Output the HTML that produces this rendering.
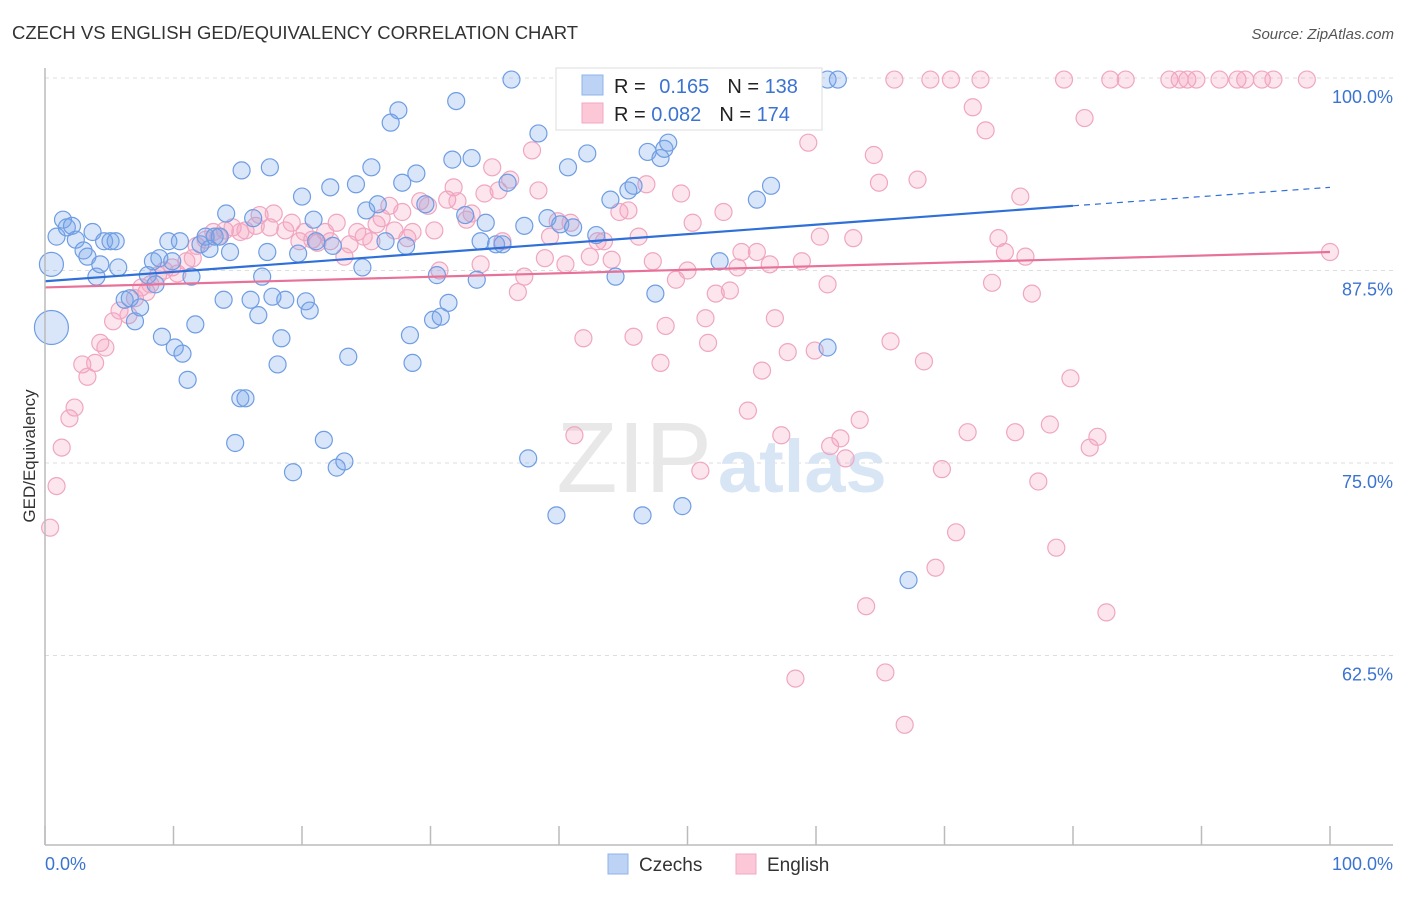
<!DOCTYPE html>
<html><head><meta charset="utf-8"><style>
body{margin:0;background:#fff;font-family:"Liberation Sans",sans-serif;}
svg text{font-family:"Liberation Sans",sans-serif;}
</style></head><body>
<svg id="chart" width="1406" height="892" xmlns="http://www.w3.org/2000/svg">
<text x="12" y="39" font-size="18.5" fill="#333">CZECH VS ENGLISH GED/EQUIVALENCY CORRELATION CHART</text>
<text x="1394" y="39" font-size="15" font-style="italic" fill="#555" text-anchor="end">Source: ZipAtlas.com</text>
<g id="grid"></g>
<text x="712" y="492" font-size="100" font-family="Liberation Serif" fill="#e8e8e8" text-anchor="end">ZIP</text>
<text x="718" y="492" font-size="74" font-weight="bold" fill="#d8e5f4">atlas</text>
<g id="pts"></g>
<g id="axes"></g>
<text transform="translate(35,456) rotate(-90)" font-size="17" fill="#333" text-anchor="middle">GED/Equivalency</text>
<text x="45" y="870" font-size="18" fill="#3b73d1">0.0%</text>
<text x="1393" y="870" font-size="18" fill="#3b73d1" text-anchor="end">100.0%</text>
<g>
<rect x="556" y="68" width="266" height="62" fill="#fff" stroke="#ddd"/>
<rect x="582" y="75" width="21" height="20" fill="#bcd3f5" stroke="#8fb3e8"/>
<rect x="582" y="103" width="21" height="20" fill="#fcc8d8" stroke="#f1a9c0"/>
<text x="614" y="93" font-size="20" fill="#222">R = <tspan fill="#3b73d1" dx="8">0.165</tspan><tspan dx="18" fill="#222">N = </tspan><tspan fill="#3b73d1">138</tspan></text>
<text x="614" y="121" font-size="20" fill="#222">R = <tspan fill="#3b73d1">0.082</tspan><tspan dx="18" fill="#222">N = </tspan><tspan fill="#3b73d1">174</tspan></text>
</g>
<g>
<rect x="608" y="854" width="20" height="20" fill="#bcd3f5" stroke="#8fb3e8"/>
<text x="639" y="871" font-size="19" fill="#333">Czechs</text>
<rect x="736" y="854" width="20" height="20" fill="#fcc8d8" stroke="#f1a9c0"/>
<text x="767" y="871" font-size="19" fill="#333">English</text>
</g>
</svg>
<script>
const yTicks=[100,87.5,75,62.5];
const yTickLabels=["100.0%","87.5%","75.0%","62.5%"];
const xTicks=[0,10,20,30,40,50,60,70,80,90,100];
const czechX=[0.5,0.5,0.9,1.4,1.7,2.1,2.4,3.0,3.3,3.7,4.0,4.3,4.6,5.1,5.5,5.7,6.2,6.6,7.0,7.4,8.0,8.4,8.6,8.9,9.1,9.6,9.9,10.1,10.5,10.7,11.1,11.4,11.7,12.1,12.5,12.8,13.2,13.6,13.9,14.1,14.4,14.8,15.2,15.3,15.6,16.0,16.2,16.6,16.9,17.3,17.5,17.7,18.1,18.4,18.7,19.3,19.7,20.0,20.3,20.6,20.9,21.1,21.7,22.2,22.4,22.7,23.3,23.6,24.2,24.7,25.0,25.4,25.9,26.5,26.9,27.5,27.8,28.1,28.4,28.6,28.9,29.6,30.2,30.5,30.8,31.4,31.7,32.0,32.7,33.2,33.6,33.9,34.3,35.1,35.6,36.0,36.3,37.3,37.6,38.4,39.1,39.8,40.1,40.7,41.1,42.2,42.9,44.0,44.4,45.4,45.8,46.5,46.9,47.5,47.9,48.2,48.5,49.6,52.5,55.4,56.5,60.9,61.7,60.9,67.2];
const czechY=[83.8,87.9,89.7,90.8,90.3,90.4,89.5,88.8,88.4,90.0,87.1,87.9,89.4,89.4,89.4,87.7,85.6,85.7,84.2,85.1,87.2,88.1,86.6,88.3,83.2,89.4,88.1,82.5,89.4,82.1,80.4,87.1,84.0,89.2,89.7,88.9,89.7,89.7,85.6,91.2,88.7,76.3,79.2,94.0,79.2,85.6,90.9,84.6,87.1,88.7,94.2,85.8,81.4,83.1,85.6,74.4,88.6,92.3,85.5,84.9,90.8,89.4,76.5,92.9,89.1,74.7,75.1,81.9,93.1,87.7,91.4,94.2,91.8,89.4,97.1,97.9,93.2,89.1,83.3,81.5,93.8,91.8,84.3,87.2,84.5,85.4,94.7,98.5,91.1,94.8,86.9,89.4,90.6,89.2,89.2,93.2,99.9,90.4,75.3,96.4,90.9,71.6,90.5,94.2,90.3,95.1,89.8,92.1,87.1,92.7,93.0,71.6,95.2,86.0,94.8,95.4,95.8,72.2,88.1,92.1,93.0,99.9,99.9,82.5,67.4];
const czechSize=[3,2];
const engX=[0.4,0.9,1.3,1.9,2.3,2.9,3.3,3.9,4.3,4.7,5.3,5.8,6.5,7.0,7.5,7.9,8.2,8.8,9.3,9.9,10.3,11.0,11.5,11.8,12.5,13.1,13.5,14.0,14.6,15.2,15.6,16.4,16.7,17.5,17.8,18.7,19.2,19.8,20.2,20.8,21.2,21.8,22.2,22.7,23.3,23.7,24.3,24.8,25.4,25.8,26.2,26.8,27.2,27.8,28.2,28.6,29.2,29.8,30.3,30.7,31.3,31.8,32.1,32.8,33.2,33.9,34.2,34.8,35.3,35.6,36.2,36.8,37.3,37.9,38.4,38.9,39.3,39.9,40.5,40.9,41.2,41.9,42.4,43.0,43.5,44.1,44.7,45.4,45.8,46.2,46.8,47.3,47.9,48.3,49.1,49.5,50.0,50.4,51.0,51.4,51.6,52.2,52.8,53.3,53.9,54.2,54.7,55.4,55.8,56.4,56.8,57.3,57.8,58.4,58.9,59.4,59.9,60.3,60.9,61.1,61.9,62.3,62.9,63.4,63.9,64.5,64.9,65.4,65.8,66.1,66.9,67.9,68.4,68.9,69.3,69.8,70.5,70.9,71.8,72.2,72.8,73.2,73.7,74.2,74.7,75.5,75.9,76.3,76.8,77.3,78.2,78.7,79.3,79.8,80.9,81.3,81.9,82.6,82.9,84.1,87.5,88.3,88.9,89.6,91.4,92.8,93.4,94.7,95.6,98.2,100];
const engY=[70.8,73.5,76.0,77.9,78.6,81.4,80.6,81.5,82.8,82.5,84.2,84.9,84.6,85.7,86.4,86.1,86.6,87.2,87.5,87.7,87.3,88.1,88.3,89.1,89.5,90.0,89.7,90.1,90.3,90.0,90.1,90.4,91.1,90.3,91.2,90.1,90.6,89.4,90.0,89.5,89.3,90.0,89.4,90.6,88.4,89.2,90.0,89.7,89.4,90.5,90.9,91.7,90.1,91.3,89.6,90.0,92.0,91.7,90.1,87.5,92.1,92.9,92.0,90.8,91.2,87.9,92.5,94.2,92.7,89.4,93.4,86.1,87.1,95.3,92.7,88.3,89.7,90.7,87.9,90.6,76.8,83.1,88.4,89.4,89.4,88.2,91.3,91.4,83.2,89.7,93.1,88.1,81.5,83.9,86.9,92.5,87.5,90.6,74.5,84.4,82.8,86.0,91.3,86.2,87.7,88.7,78.4,88.7,81.0,87.9,84.4,76.8,82.2,61.0,88.1,95.8,82.3,89.7,86.6,76.1,76.6,75.3,89.6,77.8,65.7,95.0,93.2,61.4,82.9,99.9,58.0,93.4,81.6,99.9,68.2,74.6,99.9,70.5,77.0,98.1,99.9,96.6,86.7,89.6,88.7,77.0,92.3,88.4,86.0,73.8,77.5,69.5,99.9,80.5,97.4,76.0,76.7,65.3,99.9,99.9,99.9,99.9,99.9,99.9,99.9,99.9,99.9,99.9,99.9,99.9,88.7];
const czechTrend=[0,86.8,80,91.7,100,92.9];
const engTrend=[0,86.4,100,88.7];

const NS="http://www.w3.org/2000/svg";
const X0=45,X1=1330,YTOP=78,PX_PER=15.4;
function sx(v){return X0+(X1-X0)*v/100;}
function sy(v){return YTOP+(100-v)*PX_PER;}
function mk(tag,attrs,parent){const e=document.createElementNS(NS,tag);for(const k in attrs)e.setAttribute(k,attrs[k]);parent.appendChild(e);return e;}
const grid=document.getElementById('grid'),axes=document.getElementById('axes'),pts=document.getElementById('pts');
yTicks.forEach((t,i)=>{
  const l=mk('line',{x1:45,x2:1393,y1:sy(t),y2:sy(t),stroke:'#ddd','stroke-dasharray':'4,4'},grid);
  
  
  const tx=mk('text',{x:1393,y:sy(t)+25,'font-size':18,fill:'#3b73d1','text-anchor':'end'},grid);
  tx.textContent=yTickLabels[i];
  
  
});
const ax=mk('line',{x1:45,x2:1393,y1:845,y2:845,stroke:'#bbb','stroke-width':1.5},axes);


const ay=mk('line',{x1:45,x2:45,y1:68,y2:845,stroke:'#bbb','stroke-width':1.5},axes);


xTicks.forEach(t=>{
  const l=mk('line',{x1:sx(t),x2:sx(t),y1:826,y2:845,stroke:'#bbb','stroke-width':1.5},axes);
  
  
});
engX.forEach((x,i)=>{
  const c=mk('circle',{cx:sx(x),cy:sy(engY[i]),r:8.5,fill:'rgba(244,160,190,0.28)',stroke:'#f0a6c0','stroke-width':1.2},pts);
  
  
});
czechX.forEach((x,i)=>{
  const s=czechSize[i]||1;
  const r=s===3?17:(s===2?12:8.5);
  const c=mk('circle',{cx:sx(x),cy:sy(czechY[i]),r:r,fill:'rgba(120,165,235,0.28)',stroke:'#6f9de3','stroke-width':1.2},pts);
  
  
});
const t1=mk('line',{x1:sx(czechTrend[0]),y1:sy(czechTrend[1]),x2:sx(czechTrend[2]),y2:sy(czechTrend[3]),stroke:'#2f6fd8','stroke-width':2.2},pts);


const t2=mk('line',{x1:sx(czechTrend[2]),y1:sy(czechTrend[3]),x2:sx(czechTrend[4]),y2:sy(czechTrend[5]),stroke:'#2f6fd8','stroke-width':1.2,'stroke-dasharray':'6,5'},pts);


const t3=mk('line',{x1:sx(engTrend[0]),y1:sy(engTrend[1]),x2:sx(engTrend[2]),y2:sy(engTrend[3]),stroke:'#e8719a','stroke-width':2.2},pts);


</script>
</body></html>
